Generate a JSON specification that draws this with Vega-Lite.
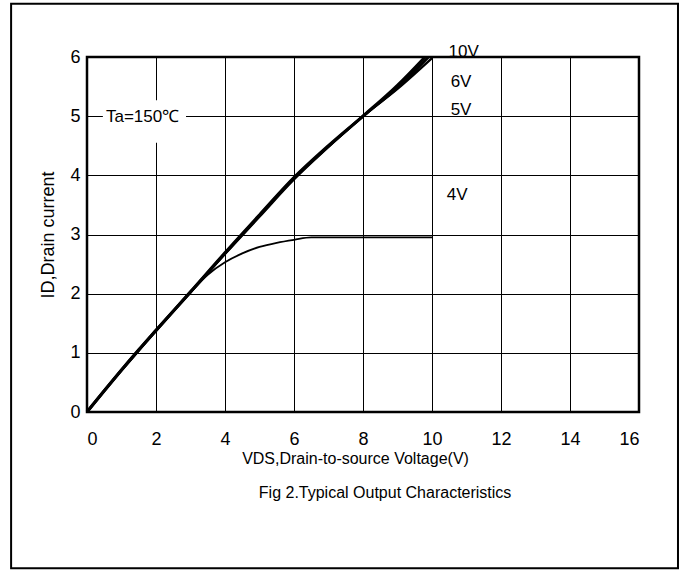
{
  "$schema": "https://vega.github.io/schema/vega-lite/v6.json",
  "width": 552,
  "height": 355,
  "autosize": "none",
  "padding": {"left": 87, "top": 57, "right": 46, "bottom": 158},
  "background": "white",
  "config": {
    "view": {"stroke": "black", "strokeWidth": 2.5},
    "font": "Liberation Sans"
  },
  "datasets": {
    "curves": [
      {"series": "10V", "vds": 0, "id": 0},
      {"series": "10V", "vds": 0.5, "id": 0.36},
      {"series": "10V", "vds": 1, "id": 0.71},
      {"series": "10V", "vds": 1.5, "id": 1.05},
      {"series": "10V", "vds": 2, "id": 1.38},
      {"series": "10V", "vds": 3, "id": 2.03},
      {"series": "10V", "vds": 4, "id": 2.69},
      {"series": "10V", "vds": 5, "id": 3.33},
      {"series": "10V", "vds": 6, "id": 3.96},
      {"series": "10V", "vds": 7, "id": 4.5},
      {"series": "10V", "vds": 8, "id": 5.0},
      {"series": "10V", "vds": 9, "id": 5.52},
      {"series": "10V", "vds": 9.8, "id": 6.0},
      {"series": "6V", "vds": 0, "id": 0},
      {"series": "6V", "vds": 1, "id": 0.71},
      {"series": "6V", "vds": 2, "id": 1.38},
      {"series": "6V", "vds": 3, "id": 2.03},
      {"series": "6V", "vds": 4, "id": 2.68},
      {"series": "6V", "vds": 5, "id": 3.32},
      {"series": "6V", "vds": 6, "id": 3.95},
      {"series": "6V", "vds": 7, "id": 4.49},
      {"series": "6V", "vds": 8, "id": 5.0},
      {"series": "6V", "vds": 9, "id": 5.48},
      {"series": "6V", "vds": 9.9, "id": 6.0},
      {"series": "5V", "vds": 0, "id": 0},
      {"series": "5V", "vds": 1, "id": 0.7},
      {"series": "5V", "vds": 2, "id": 1.37},
      {"series": "5V", "vds": 3, "id": 2.02},
      {"series": "5V", "vds": 4, "id": 2.67},
      {"series": "5V", "vds": 5, "id": 3.3},
      {"series": "5V", "vds": 6, "id": 3.93},
      {"series": "5V", "vds": 7, "id": 4.48},
      {"series": "5V", "vds": 8, "id": 5.0},
      {"series": "5V", "vds": 9, "id": 5.46},
      {"series": "5V", "vds": 10, "id": 5.98},
      {"series": "4V", "vds": 0, "id": 0},
      {"series": "4V", "vds": 1, "id": 0.71},
      {"series": "4V", "vds": 2, "id": 1.38},
      {"series": "4V", "vds": 3, "id": 2.02},
      {"series": "4V", "vds": 3.5, "id": 2.32},
      {"series": "4V", "vds": 4, "id": 2.53},
      {"series": "4V", "vds": 4.5, "id": 2.68},
      {"series": "4V", "vds": 5, "id": 2.79},
      {"series": "4V", "vds": 5.5, "id": 2.86},
      {"series": "4V", "vds": 6, "id": 2.91},
      {"series": "4V", "vds": 6.5, "id": 2.95},
      {"series": "4V", "vds": 10, "id": 2.95}
    ],
    "labels": [
      {"label": "10V", "vds": 10.48, "id": 6.08},
      {"label": "6V", "vds": 10.54, "id": 5.57},
      {"label": "5V", "vds": 10.54, "id": 5.1},
      {"label": "4V", "vds": 10.43, "id": 3.66}
    ],
    "note": [
      {"label": "Ta=150℃", "vds": 0.55, "id": 4.98, "x0": 0.46, "x1": 2.87, "y0": 4.55, "y1": 5.27}
    ],
    "caption": [
      {"label": "Fig 2.Typical Output Characteristics", "vds": 8.64, "id": -1.37}
    ]
  },
  "layer": [
    {
      "data": {"values": [{}]},
      "mark": {"type": "rect", "fill": null, "stroke": "black", "strokeWidth": 2, "clip": false},
      "encoding": {
        "x": {"datum": -2.2, "type": "quantitative"},
        "x2": {"datum": 17.13},
        "y": {"datum": 6.9, "type": "quantitative"},
        "y2": {"datum": -2.64}
      }
    },
    {
      "data": {"name": "curves"},
      "mark": {"type": "line", "color": "black", "interpolate": "monotone"},
      "encoding": {
        "x": {
          "field": "vds", "type": "quantitative",
          "scale": {"domain": [0, 16], "nice": false},
          "axis": {
            "values": [0, 2, 4, 6, 8, 10, 12, 14, 16],
            "format": "d",
            "title": "VDS,Drain-to-source Voltage(V)",
            "titleFont": "Liberation Sans",
            "titleFontSize": 16,
            "titleFontWeight": "normal",
            "titleColor": "black",
            "titlePadding": 2,
            "titleX": 268,
            "labelFont": "Liberation Sans",
            "labelFontSize": 18,
            "labelColor": "black",
            "labelPadding": 18,
            "ticks": false,
            "domain": false,
            "grid": true,
            "gridColor": "black",
            "gridOpacity": 1,
            "gridWidth": 1
          }
        },
        "y": {
          "field": "id", "type": "quantitative",
          "scale": {"domain": [0, 6], "nice": false},
          "axis": {
            "values": [0, 1, 2, 3, 4, 5, 6],
            "format": "d",
            "title": "ID,Drain current",
            "titleFont": "Liberation Sans",
            "titleFontSize": 18,
            "titleFontWeight": "normal",
            "titleColor": "black",
            "titlePadding": 12,
            "labelFont": "Liberation Sans",
            "labelFontSize": 18,
            "labelColor": "black",
            "labelPadding": 7,
            "ticks": false,
            "domain": false,
            "grid": true,
            "gridColor": "black",
            "gridOpacity": 1,
            "gridWidth": 1
          }
        },
        "detail": {"field": "series"},
        "strokeWidth": {
          "field": "series", "type": "nominal",
          "scale": {"domain": ["10V", "6V", "5V", "4V"], "range": [3.2, 1.8, 1.8, 2.5]},
          "legend": null
        }
      }
    },
    {
      "data": {"name": "note"},
      "mark": {"type": "rect", "fill": "white", "stroke": null},
      "encoding": {
        "x": {"field": "x0", "type": "quantitative"},
        "x2": {"field": "x1"},
        "y": {"field": "y0", "type": "quantitative"},
        "y2": {"field": "y1"}
      }
    },
    {
      "data": {"name": "note"},
      "mark": {"type": "text", "align": "left", "baseline": "middle", "font": "Liberation Sans", "fontSize": 17, "color": "black"},
      "encoding": {
        "x": {"field": "vds", "type": "quantitative"},
        "y": {"field": "id", "type": "quantitative"},
        "text": {"field": "label"}
      }
    },
    {
      "data": {"name": "labels"},
      "mark": {"type": "text", "align": "left", "baseline": "middle", "font": "Liberation Sans", "fontSize": 17, "color": "black"},
      "encoding": {
        "x": {"field": "vds", "type": "quantitative"},
        "y": {"field": "id", "type": "quantitative"},
        "text": {"field": "label"}
      }
    },
    {
      "data": {"name": "caption"},
      "mark": {"type": "text", "align": "center", "baseline": "middle", "font": "Liberation Sans", "fontSize": 16, "color": "black", "clip": false},
      "encoding": {
        "x": {"field": "vds", "type": "quantitative"},
        "y": {"field": "id", "type": "quantitative"},
        "text": {"field": "label"}
      }
    }
  ]
}
